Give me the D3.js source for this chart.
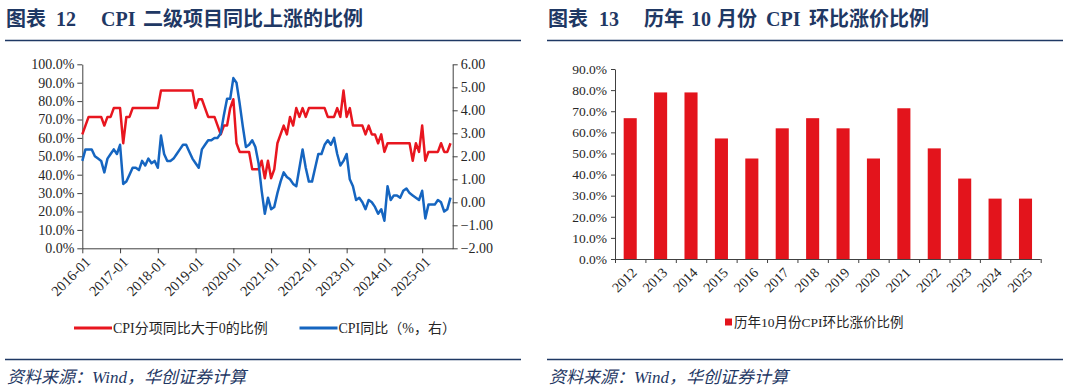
<!DOCTYPE html>
<html>
<head>
<meta charset="utf-8">
<script src="https://cdn.jsdelivr.net/npm/d3@7"></script>
<style>
  body { margin: 0; background: #fff; }
  svg { display: block; }
  text { font-family: "Times New Roman", "Liberation Serif", "Noto Sans CJK SC", serif; fill: #262626; }
</style>
</head>
<body>
<svg id="chart" width="1080" height="389"></svg>
<script>
// 图表12 -- monthly 2016-01 .. 2025-10
let shareUp = [
  61.9, 66.7, 71.4, 71.4, 71.4, 71.4, 71.4, 66.7, 71.4, 71.4, 76.2, 76.2,
  76.2, 57.1, 71.4, 71.4, 76.2, 76.2, 76.2, 76.2, 76.2, 76.2, 76.2, 76.2,
  76.2, 85.7, 85.7, 85.7, 85.7, 85.7, 85.7, 85.7, 85.7, 85.7, 85.7, 85.7,
  76.2, 81.0, 81.0, 76.2, 71.4, 71.4, 71.4, 66.7, 61.9, 66.7, 66.7, 76.2,
  81.0, 57.1, 52.4, 52.4, 52.4, 52.4, 42.9, 42.9, 42.9, 47.6, 38.1, 47.6,
  38.1, 42.9, 57.1, 61.9, 66.7, 61.9, 71.4, 66.7, 76.2, 71.4, 76.2, 71.4,
  76.2, 76.2, 76.2, 76.2, 76.2, 76.2, 71.4, 71.4, 71.4, 76.2, 71.4, 85.7,
  71.4, 76.2, 66.7, 66.7, 66.7, 66.7, 61.9, 66.7, 61.9, 61.9, 57.1, 61.9,
  52.4, 57.1, 57.1, 57.1, 57.1, 57.1, 57.1, 57.1, 57.1, 47.6, 57.1, 52.4,
  66.7, 47.6, 52.4, 52.4, 52.4, 52.4, 57.1, 52.4, 52.4, 57.1
];
let cpiYoy = [
  1.8, 2.3, 2.3, 2.3, 2.0, 1.9, 1.8, 1.3, 1.9, 2.1, 2.3, 2.1,
  2.5, 0.8, 0.9, 1.2, 1.5, 1.5, 1.4, 1.8, 1.6, 1.9, 1.7, 1.8,
  1.5, 2.9, 2.1, 1.8, 1.8, 1.9, 2.1, 2.3, 2.5, 2.5, 2.2, 1.9,
  1.7, 1.5, 2.3, 2.5, 2.7, 2.7, 2.8, 2.8, 3.0, 3.8, 4.5, 4.5,
  5.4, 5.2, 4.3, 3.3, 2.4, 2.5, 2.7, 2.4, 1.7, 0.5, -0.5, 0.2,
  -0.3, -0.2, 0.4, 0.9, 1.3, 1.1, 1.0, 0.8, 0.7, 1.5, 2.3, 1.5,
  0.9, 0.9, 1.5, 2.1, 2.1, 2.5, 2.7, 2.5, 2.8, 2.1, 1.6, 1.8,
  2.1, 1.0, 0.7, 0.1, 0.2, 0.0, -0.3, 0.1, 0.0, -0.2, -0.5, -0.3,
  -0.8, 0.7, 0.1, 0.3, 0.3, 0.2, 0.5, 0.6, 0.4, 0.3, 0.2, 0.1,
  0.5, -0.7, -0.1, -0.1, -0.1, 0.1, 0.0, -0.4, -0.3, 0.2
];
let yearLabels = ["2016-01", "2017-01", "2018-01", "2019-01", "2020-01",
  "2021-01", "2022-01", "2023-01", "2024-01", "2025-01"];
let leftTicks = [0, 10, 20, 30, 40, 50, 60, 70, 80, 90, 100];
let rightTicks = [-2, -1, 0, 1, 2, 3, 4, 5, 6];

// 图表13
let octYears = ["2012", "2013", "2014", "2015", "2016", "2017", "2018",
  "2019", "2020", "2021", "2022", "2023", "2024", "2025"];
let octShare = [66.7, 78.9, 78.9, 57.1, 47.6, 61.9, 66.7, 61.9, 47.6, 71.4, 52.4, 38.1, 28.6, 28.6];
let barTicks = [0, 10, 20, 30, 40, 50, 60, 70, 80, 90];

let navy = "#1f3864",
  red = "#e8161f",
  blue = "#1565c0",
  axisColor = "#404040";

let svg = d3.select("#chart");

// headers and footers for both panels
let panels = [
  { x0: 5, x1: 521, title: [["图表", 0], ["12", 50], ["CPI", 95], ["二级项目同比上涨的比例", 137]] },
  { x0: 547, x1: 1063, title: [["图表", 0], ["13", 51], ["历年", 96], ["10", 143], ["月份", 169], ["CPI", 218], ["环比涨价比例", 261]] },
];
panels.forEach((p) => {
  let t = svg.append("g");
  p.title.forEach((s) => {
    t.append("text")
      .attr("x", p.x0 + 1 + s[1])
      .attr("y", 26)
      .attr("font-size", 20)
      .attr("font-weight", "bold")
      .style("fill", navy)
      .text(s[0]);
  });
  svg.append("line").attr("x1", p.x0).attr("x2", p.x1).attr("y1", 40.5).attr("y2", 40.5)
    .attr("stroke", navy).attr("stroke-width", 1.5);
  svg.append("line").attr("x1", p.x0).attr("x2", p.x1).attr("y1", 359.5).attr("y2", 359.5)
    .attr("stroke", navy).attr("stroke-width", 1.5);
  svg.append("text")
    .attr("x", p.x0 + 2)
    .attr("y", 383)
    .attr("font-size", 17)
    .attr("font-style", "italic")
    .style("fill", navy)
    .text("资料来源：Wind，华创证券计算");
});

// ---------- left chart ----------
let x = d3.scaleLinear().domain([0, 117.7]).range([82.3, 452.7]);
let yL = d3.scaleLinear().domain([0, 100]).range([248.3, 64.3]);
let yR = d3.scaleLinear().domain([-2, 6]).range([248.3, 64.3]);

let left = svg.append("g");

let axL = left.append("g").attr("transform", "translate(" + x.range()[0] + ",0)")
  .call(d3.axisLeft(yL).tickValues(leftTicks).tickSize(5).tickSizeOuter(0)
    .tickFormat((d) => d3.format(".1f")(d) + "%"));
let axR = left.append("g").attr("transform", "translate(" + x.range()[1] + ",0)")
  .call(d3.axisRight(yR).tickValues(rightTicks).tickSize(5).tickSizeOuter(0)
    .tickFormat(d3.format(".2f")));
let axB = left.append("g").attr("transform", "translate(0," + yL.range()[0] + ")")
  .call(d3.axisBottom(x).tickValues(yearLabels.map((d, i) => i * 12)).tickSize(5).tickSizeOuter(0)
    .tickFormat((d, i) => yearLabels[i]));

[axL, axR, axB].forEach((a) => {
  a.selectAll("path,line").attr("stroke", axisColor);
  a.selectAll("text").attr("font-size", 14).style("fill", "#262626")
    .attr("font-family", '"Times New Roman","Liberation Serif",serif');
});
axL.selectAll("text").attr("x", -8);
axR.selectAll("text").attr("x", 8);
axB.selectAll("text")
  .attr("font-size", 14.5)
  .attr("text-anchor", "end")
  .attr("x", null).attr("y", null).attr("dy", "0.35em")
  .attr("transform", "translate(5,11) rotate(-45)");

let lineRed = d3.line().x((d, i) => x(i)).y((d) => yL(d));
let lineBlue = d3.line().x((d, i) => x(i)).y((d) => yR(d));

left.append("path").datum(shareUp).attr("d", lineRed)
  .attr("fill", "none").attr("stroke", red).attr("stroke-width", 2.5).attr("stroke-linejoin", "round");
left.append("path").datum(cpiYoy).attr("d", lineBlue)
  .attr("fill", "none").attr("stroke", blue).attr("stroke-width", 2.5).attr("stroke-linejoin", "round");

let legendL = [
  { name: "CPI分项同比大于0的比例", color: red, x: 74 },
  { name: "CPI同比（%，右）", color: blue, x: 299.5 },
];
legendL.forEach((l) => {
  left.append("line").attr("x1", l.x).attr("x2", l.x + 38).attr("y1", 328).attr("y2", 328)
    .attr("stroke", l.color).attr("stroke-width", 3);
  left.append("text").attr("x", l.x + 39).attr("y", 328).attr("dy", "0.35em")
    .attr("font-size", 14).text(l.name);
});

// ---------- right chart ----------
let xb = d3.scaleBand().domain(octYears).range([615, 1040.7]).paddingInner(0.57).paddingOuter(0.285);
let yb = d3.scaleLinear().domain([0, 90]).range([259, 69]);

let right = svg.append("g");

right.selectAll("rect.bar")
  .data(octShare)
  .enter()
  .append("rect")
  .attr("class", "bar")
  .attr("x", (d, i) => xb(octYears[i]))
  .attr("y", (d) => yb(d))
  .attr("width", xb.bandwidth())
  .attr("height", (d) => yb(0) - yb(d))
  .attr("fill", "#e3141c");

let axY2 = right.append("g").attr("transform", "translate(" + xb.range()[0] + ",0)")
  .call(d3.axisLeft(yb).tickValues(barTicks).tickSize(4).tickSizeOuter(0)
    .tickFormat((d) => d3.format(".1f")(d) + "%"));
axY2.selectAll("path,line").attr("stroke", axisColor);
axY2.selectAll("text").attr("font-size", 13.5).attr("x", -8).style("fill", "#262626")
  .attr("font-family", '"Times New Roman","Liberation Serif",serif');

// category axis: line, ticks between categories, rotated labels
let axX2 = right.append("g");
axX2.append("line").attr("x1", xb.range()[0]).attr("x2", xb.range()[1])
  .attr("y1", yb(0) + 0.5).attr("y2", yb(0) + 0.5).attr("stroke", axisColor);
axX2.selectAll("line.tk")
  .data(d3.range(octYears.length + 1))
  .enter()
  .append("line")
  .attr("class", "tk")
  .attr("x1", (i) => xb.range()[0] + i * xb.step() + 0.5)
  .attr("x2", (i) => xb.range()[0] + i * xb.step() + 0.5)
  .attr("y1", yb(0))
  .attr("y2", yb(0) + 4)
  .attr("stroke", axisColor);
axX2.selectAll("text")
  .data(octYears)
  .enter()
  .append("text")
  .attr("font-size", 14)
  .attr("text-anchor", "end")
  .attr("dy", "0.35em")
  .attr("transform", (d) => "translate(" + (xb(d) + xb.bandwidth() / 2 + 4) + "," + (yb(0) + 11) + ") rotate(-45)")
  .text((d) => d);

right.append("rect").attr("x", 725).attr("y", 318.5).attr("width", 7).attr("height", 7).attr("fill", "#e3141c");
right.append("text").attr("x", 734).attr("y", 322).attr("dy", "0.35em").attr("font-size", 13.5)
  .text("历年10月份CPI环比涨价比例");
</script>
</body>
</html>
